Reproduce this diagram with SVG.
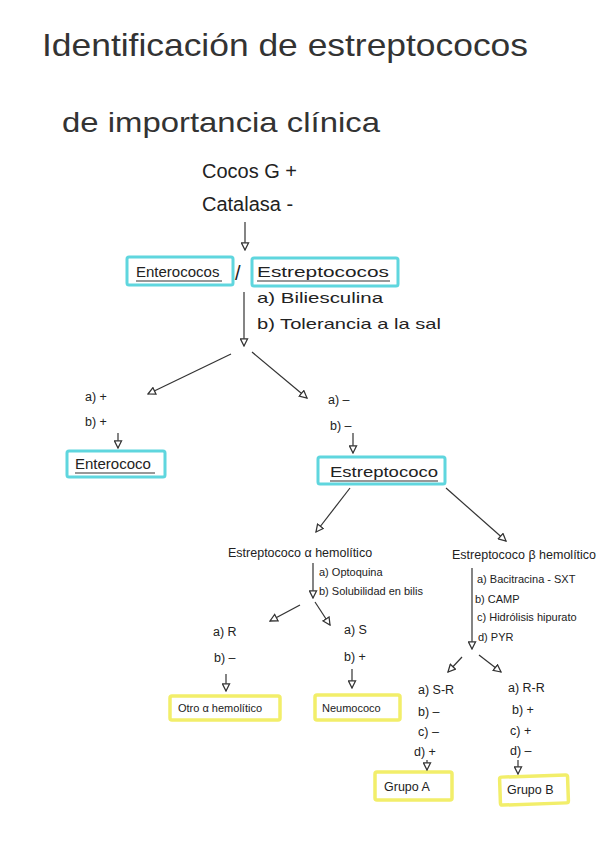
<svg xmlns="http://www.w3.org/2000/svg" width="600" height="848" viewBox="0 0 600 848">
<style>
text{font-family:"Liberation Sans",Arial,sans-serif;fill:#222}
.t{font-size:32px;fill:#333}
.h{font-size:20px}
.m{font-size:15px}
.s{font-size:12.5px}
.xs{font-size:11px}
.c{fill:none;stroke:#5fd6de;stroke-width:3}
.y{fill:none;stroke:#f2ee6a;stroke-width:3.5}
.ln{fill:none;stroke:#333;stroke-width:1.2;marker-end:url(#a)}
.ul{stroke:#333;stroke-width:1.2}
</style>
<defs>
<marker id="a" viewBox="0 0 10 10" refX="9" refY="5" markerWidth="9" markerHeight="9" markerUnits="userSpaceOnUse" orient="auto">
<path d="M1,1 L9,5 L1,9 Z" fill="#fff" stroke="#333" stroke-width="1.4"/>
</marker>
</defs>
<rect width="600" height="848" fill="#fff"/>
<g id="title">
<text class="t" x="42" y="56" textLength="486" lengthAdjust="spacingAndGlyphs">Identificación de estreptococos</text>
<text class="t" x="62" y="132" style="font-size:28px" textLength="318" lengthAdjust="spacingAndGlyphs">de importancia clínica</text>
</g>
<g id="n-cocos">
<text class="h" x="202" y="178">Cocos G +</text>
<text class="h" x="202" y="211">Catalasa -</text>
</g>
<g id="n-entero-estrepto">
<rect class="c" x="127" y="257" width="106" height="28" rx="2"/>
<text class="m" x="136" y="277">Enterococos</text>
<line class="ul" x1="136" y1="281" x2="222" y2="281"/>
<text class="h" x="235" y="280">/</text>
<rect class="c" x="252" y="258" width="146" height="28" rx="2"/>
<text class="m" x="257" y="277" textLength="132" lengthAdjust="spacingAndGlyphs">Estreptococos</text>
<line class="ul" x1="257" y1="281" x2="390" y2="281"/>
</g>
<g id="l-tests1">
<text x="257" y="303" style="font-size:14.5px" textLength="126" lengthAdjust="spacingAndGlyphs">a) Biliesculina</text>
<text x="257" y="329" style="font-size:14.5px" textLength="184" lengthAdjust="spacingAndGlyphs">b) Tolerancia a la sal</text>
</g>
<g id="n-res-entero">
<text class="s" x="85" y="401">a) +</text>
<text class="s" x="85" y="426">b) +</text>
</g>
<g id="n-enterococo">
<rect class="c" x="67" y="451" width="98" height="26" rx="2"/>
<text class="m" x="75" y="469">Enterococo</text>
<line class="ul" x1="75" y1="473" x2="155" y2="473"/>
</g>
<g id="n-res-estrepto">
<text class="s" x="328" y="404">a) –</text>
<text class="s" x="330" y="430">b) –</text>
</g>
<g id="n-estreptococo">
<rect class="c" x="318" y="457" width="127" height="27" rx="2"/>
<text class="m" x="330" y="477" textLength="108" lengthAdjust="spacingAndGlyphs">Estreptococo</text>
<line class="ul" x1="330" y1="481" x2="438" y2="481"/>
</g>
<g id="n-alfa">
<text class="s" x="228" y="557">Estreptococo α hemolítico</text>
<text class="xs" x="319" y="576">a) Optoquina</text>
<text class="xs" x="319" y="595">b) Solubilidad en bilis</text>
</g>
<g id="n-beta">
<text class="s" x="452" y="559">Estreptococo β hemolítico</text>
<text class="xs" x="477" y="583">a) Bacitracina - SXT</text>
<text class="xs" x="475" y="603">b) CAMP</text>
<text class="xs" x="477" y="621">c) Hidrólisis hipurato</text>
<text class="xs" x="478" y="641">d) PYR</text>
</g>
<g id="n-res-otro">
<text class="s" x="213" y="636">a) R</text>
<text class="s" x="214" y="662">b) –</text>
</g>
<g id="n-otro">
<rect class="y" x="170" y="696" width="110" height="24" rx="2"/>
<text class="xs" x="178" y="712">Otro α hemolítico</text>
</g>
<g id="n-res-neumo">
<text class="s" x="344" y="634">a) S</text>
<text class="s" x="344" y="661">b) +</text>
</g>
<g id="n-neumococo">
<rect class="y" x="315" y="695" width="85" height="25" rx="2"/>
<text class="xs" x="322" y="712">Neumococo</text>
</g>
<g id="n-res-a">
<text class="s" x="418" y="694">a) S-R</text>
<text class="s" x="418" y="716">b) –</text>
<text class="s" x="418" y="736">c) –</text>
<text class="s" x="414" y="756">d) +</text>
</g>
<g id="n-grupoA">
<rect class="y" x="375" y="772" width="77" height="28" rx="2"/>
<text class="s" x="384" y="791">Grupo A</text>
</g>
<g id="n-res-b">
<text class="s" x="508" y="692">a) R-R</text>
<text class="s" x="512" y="714">b) +</text>
<text class="s" x="510" y="735">c) +</text>
<text class="s" x="510" y="755">d) –</text>
</g>
<g id="n-grupoB">
<rect class="y" x="500" y="776" width="68" height="28" rx="2" transform="rotate(-2 534 790)"/>
<text class="s" x="507" y="794">Grupo B</text>
</g>
<g id="connectors">
<path class="ln" d="M245,222 L245,250"/>
<path class="ln" d="M244,292 L244,346"/>
<path class="ln" d="M231,354 L148,394"/>
<path class="ln" d="M252,352 L307,398"/>
<path class="ln" d="M118,433 L118,448"/>
<path class="ln" d="M353,433 L353,453"/>
<path class="ln" d="M350,488 L316,532"/>
<path class="ln" d="M446,488 L506,541"/>
<path class="ln" d="M313,563 L313,598"/>
<path class="ln" d="M300,605 L270,621"/>
<path class="ln" d="M315,602 L330,625"/>
<path class="ln" d="M226,674 L226,691"/>
<path class="ln" d="M352,669 L352,688"/>
<path class="ln" d="M472,568 L472,649"/>
<path class="ln" d="M462,657 L448,672"/>
<path class="ln" d="M479,655 L501,672"/>
<path class="ln" d="M427,760 L427,770"/>
<path class="ln" d="M518,760 L518,774"/>
</g>
</svg>
